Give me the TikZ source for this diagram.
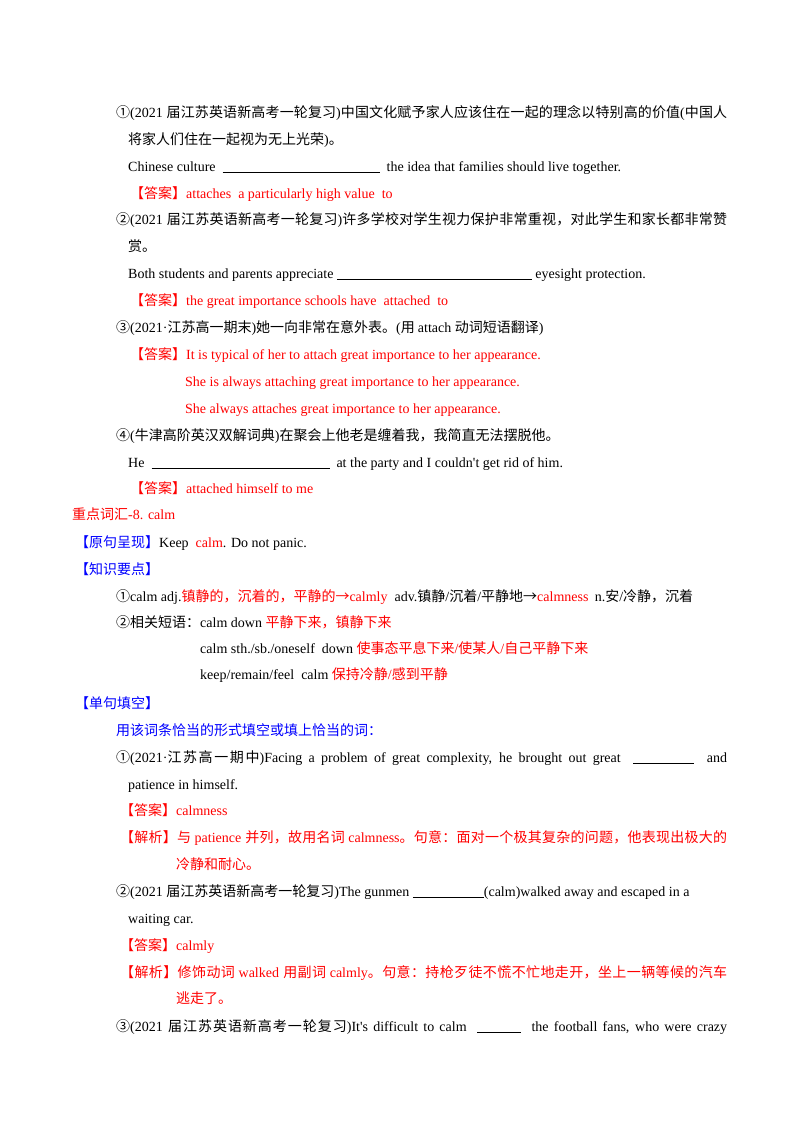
\documentclass[tikz,border=0pt]{standalone}
\usepackage{fontspec}
\setmainfont{Liberation Serif}
\newfontfamily\cjk{Noto Sans CJK SC}
\newfontfamily\lat{Liberation Serif}
\XeTeXinterchartokenstate=1
\newXeTeXintercharclass\cjkcl
\newcount\mycnt
\newcommand\cjkrange[2]{\mycnt=#1 \loop\XeTeXcharclass\mycnt=\cjkcl \ifnum\mycnt<#2 \advance\mycnt 1 \repeat}
\cjkrange{"3000}{"303F}
\cjkrange{"4E00}{"9FFF}
\cjkrange{"FF00}{"FFEF}
\cjkrange{"2460}{"2473}
\XeTeXcharclass"2192=\cjkcl
\XeTeXinterchartoks 0 \cjkcl={\cjk}
\XeTeXinterchartoks \cjkcl 0={\lat}
\XeTeXinterchartoks 4095 \cjkcl={\cjk}
\XeTeXinterchartoks 4095 0={\lat}
\XeTeXinterchartoks \cjkcl \cjkcl={\hskip0pt plus 1pt}
\newcommand\blank[1]{\rule[-2pt]{#1pt}{0.6pt}}
\newcommand\jl[1]{\makebox[611pt][s]{#1}}
\tikzset{ln/.style={anchor=base west,inner sep=0pt,font=\fontsize{14}{16}\selectfont},
 rd/.style={ln,text=red}, bl/.style={ln,text=blue}}
\begin{document}
\begin{tikzpicture}[x=1pt,y=1pt]
\useasboundingbox[fill=white] (0,0) rectangle (800,-1132);
\node[ln] (l1) at (116,-117) {\jl{①(2021 届江苏英语新高考一轮复习)中国文化赋予家人应该住在一起的理念以特别高的价值(中国人}};
\node[ln] (l2) at (128,-144) {将家人们住在一起视为无上光荣)。};
\node[ln] (l3) at (128,-171) {Chinese culture \ \blank{157}\ \ the idea that families should live together.};
\node[rd] (l4) at (130,-198) {【答案】attaches\ \ a particularly high value\ \ to};
\node[ln] (l5) at (116,-224) {\jl{②(2021 届江苏英语新高考一轮复习)许多学校对学生视力保护非常重视，对此学生和家长都非常赞}};
\node[ln] (l6) at (128,-251) {赏。};
\node[ln] (l7) at (128,-278) {Both students and parents appreciate \blank{195} eyesight protection.};
\node[rd] (l8) at (130,-305) {【答案】the great importance schools have\ \ attached\ \ to};
\node[ln] (l9) at (116,-332) {③(2021·江苏高一期末)她一向非常在意外表。(用 attach 动词短语翻译)};
\node[rd] (l10) at (130,-359) {【答案】It is typical of her to attach great importance to her appearance.};
\node[rd] (l11) at (185,-386) {She is always attaching great importance to her appearance.};
\node[rd] (l12) at (185,-413) {She always attaches great importance to her appearance.};
\node[ln] (l13) at (116,-440) {④(牛津高阶英汉双解词典)在聚会上他老是缠着我，我简直无法摆脱他。};
\node[ln] (l14) at (128,-467) {He \ \blank{178}\ \ at the party and I couldn't get rid of him.};
\node[rd] (l15) at (130,-493) {【答案】attached himself to me};
\node[rd] (l16) at (72,-519) {重点词汇-8. calm};
\node[ln] (l17) at (75,-547) {\textcolor{blue}{【原句呈现】}Keep\ \ \textcolor{red}{calm}. Do not panic.};
\node[bl] (l18) at (75,-574) {【知识要点】};
\node[ln] (l19) at (116,-601) {①calm adj.\textcolor{red}{镇静的，沉着的，平静的→calmly}\ \ adv.镇静/沉着/平静地→\textcolor{red}{calmness}\ \ n.安/冷静，沉着};
\node[ln] (l20) at (116,-627) {②相关短语：calm down \textcolor{red}{平静下来，镇静下来}};
\node[ln] (l21) at (200,-653) {calm sth./sb./oneself\ \ down \textcolor{red}{使事态平息下来/使某人/自己平静下来}};
\node[ln] (l22) at (200,-679) {keep/remain/feel\ \ calm \textcolor{red}{保持冷静/感到平静}};
\node[bl] (l23) at (75,-708) {【单句填空】};
\node[bl] (l24) at (116,-735) {用该词条恰当的形式填空或填上恰当的词：};
\node[ln] (l25) at (116,-762) {\jl{①(2021·江苏高一期中)Facing a problem of great complexity, he brought out great \ \blank{61}\ \ and}};
\node[ln] (l26) at (128,-789) {patience in himself.};
\node[rd] (l27) at (120,-815) {【答案】calmness};
\node[rd] (l28) at (120,-842) {\makebox[607pt][s]{【解析】与 patience 并列，故用名词 calmness。句意：面对一个极其复杂的问题，他表现出极大的}};
\node[rd] (l29) at (176,-869) {冷静和耐心。};
\node[ln] (l30) at (116,-896) {②(2021 届江苏英语新高考一轮复习)The gunmen \blank{71}(calm)walked away and escaped in a};
\node[ln] (l31) at (128,-923) {waiting car.};
\node[rd] (l32) at (120,-950) {【答案】calmly};
\node[rd] (l33) at (120,-977) {\makebox[607pt][s]{【解析】修饰动词 walked 用副词 calmly。句意：持枪歹徒不慌不忙地走开，坐上一辆等候的汽车}};
\node[rd] (l34) at (176,-1003) {逃走了。};
\node[ln] (l35) at (116,-1031) {\jl{③(2021 届江苏英语新高考一轮复习)It's difficult to calm \ \blank{44}\ \ the football fans, who were crazy}};
\end{tikzpicture}
\end{document}
